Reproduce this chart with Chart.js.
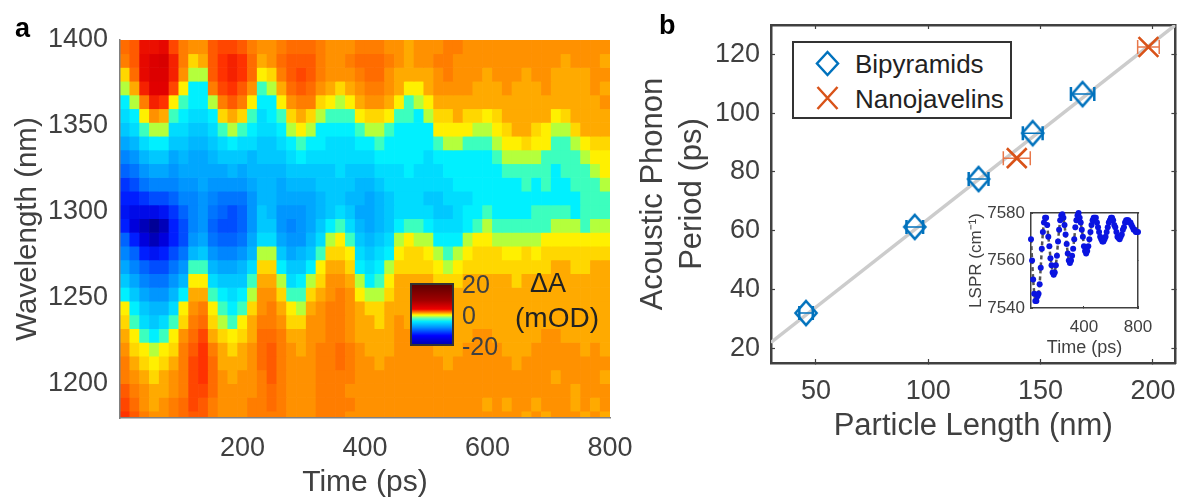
<!DOCTYPE html>
<html>
<head>
<meta charset="utf-8">
<script src="https://cdn.jsdelivr.net/npm/chart.js@4/dist/chart.umd.min.js"></script>
<style>
  body { margin: 0; background: #fff; font-family: "Liberation Sans", Arial, sans-serif; color: #404040; }
  #page { position: relative; width: 1181px; height: 498px; overflow: hidden; }
  canvas { position: absolute; }
  .txt { position: absolute; white-space: nowrap; line-height: 1; }
  #cbar { position: absolute; left: 410px; top: 283px; width: 40px; height: 59px; border: 2px solid #333;
    background: linear-gradient(to top, #0000b4 0%, #0000ff 14%, #0090ff 28%, #00e8ff 38%, #60ffb0 44%, #ffff00 49%, #ff9000 53%, #f00000 59%, #a00000 74%, #600000 100%); }
  #legend { position: absolute; left: 792px; top: 41px; width: 216px; height: 74px; border: 2.5px solid #333; background: #fff; }
</style>
</head>
<body>
<div id="page">
  <canvas id="map" width="640" height="498" style="left:0;top:0"></canvas>
  <canvas id="size" width="572" height="498" style="left:620px;top:0"></canvas>
  <canvas id="lspr" width="231" height="190" style="left:950px;top:190px"></canvas>

  <div class="txt" style="left:15px;top:15px;font-size:27px;font-weight:bold;color:#000">a</div>
  <div class="txt" style="left:659px;top:12px;font-size:27px;font-weight:bold;color:#000">b</div>

  <div id="cbar"></div>
  <div class="txt" style="left:462px;top:272px;font-size:25px">20</div>
  <div class="txt" style="left:462px;top:303px;font-size:25px">0</div>
  <div class="txt" style="left:462px;top:334px;font-size:25px">-20</div>
  <div class="txt" style="left:530px;top:270px;font-size:27px;color:#222">ΔA</div>
  <div class="txt" style="left:515px;top:304px;font-size:28px;color:#222">(mOD)</div>

  <div id="legend">
    <svg width="60" height="74" style="position:absolute;left:0;top:0">
      <polygon points="33.5,9 44,20.5 33.5,32 23,20.5" fill="none" stroke="#0072bd" stroke-width="2.5"/>
      <path d="M23.5,44 L43.5,66 M43.5,44 L23.5,66" fill="none" stroke="#d95319" stroke-width="2.5"/>
    </svg>
    <div class="txt" style="left:61px;top:8px;font-size:26px;color:#222">Bipyramids</div>
    <div class="txt" style="left:61px;top:43px;font-size:26px;color:#222">Nanojavelins</div>
  </div>
</div>

<script>
// panel a: delta A map, one list per time column, wavelengths top to bottom
const timesPs = [8,24,40,56,72,88,104,120,136,152,168,184,200,216,232,248,264,280,296,312,328,344,360,376,392,408,424,440,456,472,488,504,520,536,552,568,584,600,616,632,648,664,680,696,712,728,744,760,776,792];
const wavelengthsNm = [1396,1388,1380,1372,1364,1356,1348,1340,1332,1324,1316,1308,1300,1292,1284,1276,1268,1260,1252,1244,1236,1228,1220,1212,1204,1196,1188,1180];
const deltaA = [
  [4,3,0,-2,-4,-5,-6,-8,-10,-12,-14,-15,-16,-15,-12,-10,-8,-6,-4,-1,0,1,2,3,3,5,6,7],
  [5,5,4,1,-2,-4,-5,-7,-9,-11,-13,-15,-17,-18,-15,-12,-10,-8,-6,-4,-3,-1,0,1,2,3,4,5],
  [9,10,10,8,3,-1,-3,-5,-7,-9,-11,-14,-17,-19,-18,-15,-12,-10,-8,-6,-5,-3,-1,0,1,2,2,3],
  [9,12,12,11,8,2,-2,-4,-6,-8,-10,-13,-17,-20,-19,-16,-13,-11,-9,-7,-6,-4,-2,-1,0,1,1,2],
  [10,13,12,11,7,1,-2,-4,-6,-8,-10,-13,-16,-19,-18,-15,-13,-11,-9,-7,-5,-3,-1,0,1,1,2,2],
  [6,8,8,6,-1,-3,-5,-6,-8,-9,-10,-12,-14,-15,-15,-13,-11,-9,-7,-5,-3,-1,0,1,2,2,3,3],
  [3,3,2,-1,-3,-4,-5,-6,-7,-8,-9,-10,-12,-13,-13,-11,-9,-7,-4,-1,0,2,3,3,3,3,4,4],
  [2,0,-2,-4,-4,-5,-6,-7,-8,-8,-9,-10,-10,-10,-9,-7,-3,-1,1,2,3,4,5,6,6,6,6,5],
  [2,1,-2,-4,-4,-5,-6,-7,-8,-8,-8,-9,-9,-9,-8,-6,-3,-1,1,3,4,6,7,7,7,6,5,5],
  [5,5,5,3,-2,-4,-5,-6,-7,-8,-9,-10,-11,-12,-11,-9,-7,-5,-3,-1,0,1,3,4,4,4,3,3],
  [6,7,7,6,3,0,-3,-5,-6,-8,-9,-11,-12,-13,-12,-10,-8,-6,-4,-3,-2,0,1,1,2,2,2,2],
  [6,8,8,7,5,1,-2,-4,-6,-7,-9,-11,-13,-13,-12,-10,-8,-6,-5,-4,-3,-1,0,1,1,2,2,2],
  [5,7,7,5,3,0,-3,-5,-6,-8,-9,-11,-12,-12,-11,-9,-7,-6,-4,-3,-1,0,1,1,2,2,2,2],
  [3,4,4,2,-1,-3,-4,-5,-7,-7,-8,-9,-9,-9,-8,-7,-5,-3,-2,0,1,1,2,2,2,2,3,3],
  [2,1,-1,-3,-4,-5,-5,-6,-6,-7,-7,-7,-6,-6,-5,-2,0,1,2,2,3,4,4,4,3,3,3,3],
  [2,2,0,-2,-4,-4,-5,-6,-6,-7,-7,-7,-7,-6,-5,-2,0,1,2,3,3,4,5,5,5,4,4,3],
  [3,4,3,1,-1,-3,-4,-5,-6,-7,-8,-8,-9,-9,-8,-6,-4,-2,0,1,2,3,3,3,3,3,3,3],
  [4,5,5,4,2,0,-2,-4,-5,-6,-7,-8,-9,-10,-9,-8,-6,-5,-3,-1,0,1,2,2,2,2,2,2],
  [4,5,6,5,3,1,-1,-3,-4,-6,-7,-8,-9,-9,-9,-7,-6,-4,-3,-2,0,1,1,2,2,2,2,2],
  [4,5,5,4,3,0,-2,-4,-5,-6,-7,-8,-8,-8,-7,-6,-4,-2,0,1,2,2,2,2,2,2,2,2],
  [3,3,3,2,0,-2,-4,-4,-5,-6,-6,-7,-7,-6,-5,-3,-1,0,1,2,2,2,3,3,3,3,3,3],
  [2,2,2,1,-1,-3,-4,-5,-5,-6,-6,-6,-6,-4,-2,0,1,2,2,3,3,3,3,3,3,3,3,3],
  [2,2,2,0,-2,-3,-4,-5,-5,-5,-6,-6,-5,-3,-1,0,1,2,3,3,3,3,4,4,3,3,3,3],
  [2,3,2,1,-1,-3,-4,-5,-5,-6,-6,-7,-6,-5,-3,-1,0,1,2,2,2,2,3,3,3,2,3,2],
  [3,4,3,2,1,-1,-3,-4,-5,-6,-7,-7,-8,-7,-6,-5,-4,-2,-1,1,1,1,2,2,2,2,2,2],
  [3,4,4,3,2,0,-2,-4,-5,-6,-7,-8,-8,-8,-7,-6,-5,-4,-2,0,1,1,1,2,2,2,2,2],
  [3,4,4,3,2,0,-2,-3,-4,-5,-6,-7,-7,-7,-6,-5,-4,-3,-2,0,0,1,1,1,2,2,2,2],
  [2,3,2,2,1,-1,-3,-4,-4,-5,-5,-6,-6,-6,-5,-4,-2,-1,0,1,1,1,1,2,2,2,2,2],
  [2,2,1,1,-1,-3,-4,-4,-4,-5,-5,-5,-5,-4,-2,-1,0,1,1,1,2,2,2,2,2,2,2,2],
  [1,1,1,-1,-3,-3,-4,-4,-4,-4,-5,-5,-5,-3,-1,0,0,1,1,1,1,2,2,2,2,2,2,2],
  [2,2,1,-1,-2,-4,-4,-4,-4,-5,-5,-5,-5,-3,-2,0,0,1,1,1,1,2,2,2,2,2,2,2],
  [2,2,1,1,-1,-2,-4,-4,-5,-5,-5,-6,-5,-4,-2,-1,0,1,1,1,1,1,2,2,2,2,2,2],
  [2,3,2,2,1,0,-1,-3,-4,-5,-5,-6,-6,-5,-4,-2,-1,0,1,1,1,1,1,2,2,2,2,2],
  [3,3,3,2,1,0,-1,-2,-4,-4,-5,-5,-6,-5,-4,-3,-2,0,1,1,1,1,1,1,2,2,2,2],
  [3,2,2,2,1,1,-1,-2,-4,-4,-4,-5,-5,-5,-4,-2,-1,0,1,1,1,1,1,2,2,2,2,2],
  [2,2,2,2,1,0,-1,-3,-4,-4,-4,-5,-4,-4,-2,-1,0,1,1,1,1,1,2,2,2,2,2,2],
  [2,2,2,1,1,0,-2,-3,-4,-4,-4,-4,-4,-3,-1,0,0,1,1,1,1,2,2,2,2,2,2,2],
  [2,2,1,1,1,-1,-2,-3,-4,-4,-4,-4,-3,-2,-1,0,0,1,1,1,1,2,2,2,2,2,1,2],
  [2,2,2,1,1,0,-1,-2,-3,-4,-4,-4,-4,-3,-2,0,0,1,1,1,1,1,2,2,2,2,2,2],
  [2,2,2,2,1,1,0,-1,-2,-3,-4,-4,-4,-3,-2,-1,0,1,1,1,1,1,1,2,2,2,1,2],
  [2,2,2,1,1,1,1,-1,-2,-3,-4,-4,-4,-3,-2,-1,0,0,1,1,1,1,1,1,2,2,2,2],
  [2,2,1,1,1,1,1,0,-2,-3,-3,-4,-4,-3,-2,0,0,1,1,1,1,1,1,2,2,2,2,1],
  [2,2,2,1,1,1,0,-1,-2,-3,-4,-4,-3,-3,-2,-1,0,1,1,1,1,1,2,2,2,2,1,2],
  [2,2,2,2,1,1,-1,-1,-3,-3,-3,-4,-3,-3,-1,0,0,1,1,1,1,2,2,2,2,2,2,1],
  [2,2,1,1,1,-1,-2,-3,-3,-4,-4,-4,-3,-2,-1,0,1,1,1,1,1,2,2,2,1,2,2,2],
  [2,1,1,1,1,0,-2,-3,-3,-3,-4,-4,-3,-2,-1,0,1,1,1,1,1,1,2,2,2,2,2,2],
  [2,2,1,1,1,1,0,-2,-3,-3,-3,-4,-4,-2,-1,0,0,1,1,1,1,1,2,2,2,1,1,2],
  [2,2,1,1,1,1,1,-1,-2,-3,-3,-3,-3,-3,-1,0,0,1,1,1,1,1,1,2,2,2,2,1],
  [2,2,2,2,1,1,1,0,-1,-2,-3,-3,-3,-2,-1,0,1,1,1,1,1,1,2,2,2,2,1,2],
  [2,1,2,1,2,1,1,0,-1,-1,-2,-3,-3,-2,-1,0,1,1,1,1,1,1,1,2,1,2,2,1]
];
const mapTimeTicks = [200,400,600,800];
const mapWaveTicks = [1200,1250,1300,1350,1400];

// panel b: period against length
const bipyLength = [45.6,94,122.4,146.5,168.7];
const bipyPeriod = [32,61.3,77.6,93.2,106.5];
const bipyError = [3,3.7,4.4,4.4,5.2];
const javLength = [139.4,198];
const javPeriod = [84.7,122.5];
const javError = [6,4.8];
const fitLength = [30,210];
const fitPeriod = [22,130];
const sizeXTicks = [50,100,150,200];
const sizeYTicks = [20,40,60,80,100,120];

// inset
const lsprTimes = [8,16,24,32,40,48,56,64,72,80,88,96,104,112,120,128,136,144,152,160,168,176,184,192,200,208,216,224,232,240,248,256,264,272,280,288,296,304,312,320,328,336,344,352,360,368,376,384,392,400,408,416,424,432,440,448,456,464,472,480,488,496,504,512,520,528,536,544,552,560,568,576,584,592,600,608,616,624,632,640,648,656,664,672,680,688,696,704,712,720,728,736,744,752,760,768,776,784,792,800];
const lsprValues = [7569,7560,7552,7546,7543,7543,7545,7546,7550,7557,7565,7572,7576,7578,7578,7575,7570,7566,7561,7558,7555,7554,7555,7558,7562,7568,7573,7577,7579,7579.5,7578,7575,7571,7567,7563,7560,7559,7560,7562,7565,7569,7574,7577,7579,7580,7578,7576,7573,7570,7566,7564,7563,7564,7566,7569,7572,7575,7577,7578,7578,7578,7576,7574,7572,7570,7569,7568,7568,7569,7570,7572,7574,7576,7577,7578,7578,7577,7575,7574,7572,7570,7569.5,7569,7570,7571,7573,7574,7576,7577,7577,7577,7576,7576,7575,7574,7573,7573,7572,7572,7572];
const lsprXTicks = [400,800];
const lsprYTicks = [7540,7560,7580];

const FONT = '"Liberation Sans", Arial, sans-serif';
const TEXT = '#404040';
const BLUE = '#0072bd';
const ORANGE = '#d95319';

const mapColors = [
  [-20,0,0,150],[-18,0,0,220],[-15,0,30,255],[-12,0,100,255],[-9,0,150,255],[-6,0,200,255],[-4,0,240,255],
  [-3,60,255,190],[-2,180,255,60],[-1,255,240,0],[0,255,215,0],[1,255,170,0],[2,255,145,0],
  [3,255,125,0],[5,255,90,0],[7,255,50,0],[9,235,15,0],[11,225,0,0],[13,215,0,0],[20,110,0,0]
];

function colorFor(v){
  for(var i = 1; i < mapColors.length; i++){
    if(v <= mapColors[i][0]){
      var a = mapColors[i-1], b = mapColors[i];
      var f = (v-a[0])/(b[0]-a[0]);
      return 'rgb(' + [1,2,3].map(k => Math.round(a[k]+(b[k]-a[k])*f)).join(',') + ')';
    }
  }
  return 'rgb(110,0,0)';
}

function noPad(s){ s.paddingLeft = s.paddingRight = s.paddingTop = s.paddingBottom = 0; }
function fixWidth(w){ return function(s){ s.width = w; noPad(s); }; }
function fixHeight(h){ return function(s){ s.height = h; noPad(s); }; }
function setTicks(list){ return function(s){ s.ticks = list.map(v => ({value: v})); }; }
function plain(v){ return String(v); }

// extra top/right axis, only the line and the inward ticks
function boxScale(axis, position, min, max, list, tick, width){
  return {
    type: 'linear', axis: axis, position: position, min: min, max: max,
    afterBuildTicks: setTicks(list),
    afterFit: axis == 'x' ? fixHeight(0) : fixWidth(0),
    ticks: {display: false},
    grid: {drawOnChartArea: false, tickLength: tick, color: TEXT, tickWidth: 1.2},
    border: {color: TEXT, width: width}
  };
}

// heat map, one floating bar dataset per wavelength
const mapSets = wavelengthsNm.map(function(nm, r){
  return {
    data: timesPs.map(t => ({x: t, y: [nm-4, nm+4]})),
    backgroundColor: deltaA.map(col => colorFor(col[r])),
    barPercentage: 1,
    categoryPercentage: 1,
    grouped: false
  };
});

new Chart(document.getElementById('map'), {
  type: 'bar',
  data: {datasets: mapSets},
  options: {
    responsive: false,
    animation: false,
    events: [],
    layout: {padding: {top: 40, right: 30}},
    plugins: {legend: {display: false}, tooltip: {enabled: false}},
    scales: {
      x: {
        type: 'linear', min: 0, max: 800, offset: false,
        afterBuildTicks: setTicks(mapTimeTicks),
        afterFit: fixHeight(80),
        grid: {display: false},
        border: {color: '#808080', width: 1.5, z: 1},
        ticks: {color: TEXT, padding: 6, maxRotation: 0, callback: plain, font: {family: FONT, size: 27}},
        title: {display: true, text: 'Time (ps)', color: TEXT, padding: 0, font: {family: FONT, size: 30, lineHeight: 1}}
      },
      y: {
        type: 'linear', min: 1180, max: 1400,
        afterBuildTicks: setTicks(mapWaveTicks),
        afterFit: fixWidth(120),
        grid: {display: false},
        border: {color: '#808080', width: 1.5, z: 1},
        ticks: {color: TEXT, padding: 4, callback: plain, font: {family: FONT, size: 27}},
        title: {display: true, text: 'Wavelength (nm)', color: TEXT, padding: {top: 13}, font: {family: FONT, size: 29.5, lineHeight: 1}}
      }
    }
  }
});

function toPoints(xs, ys){ return xs.map((x, i) => ({x: x, y: ys[i]})); }

// error bars as broken line, with caps from the point style
function errorPoints(xs, ys, es){
  var out = [];
  xs.forEach(function(x, i){
    out.push({x: x-es[i], y: ys[i]}, {x: x+es[i], y: ys[i]}, {x: x, y: NaN});
  });
  return out;
}

function errorSet(xs, ys, es, color, w){
  return {
    type: 'scatter', showLine: true, spanGaps: false, data: errorPoints(xs, ys, es),
    borderColor: color, borderWidth: 1.5, pointStyle: 'line', pointRotation: 90, pointRadius: 7,
    pointBorderColor: color, pointBorderWidth: w, order: 1
  };
}

// taller than rectRot
const diamond = document.createElement('canvas');
diamond.width = 26; diamond.height = 30;
(function(){
  var c = diamond.getContext('2d');
  c.strokeStyle = BLUE; c.lineWidth = 2.6;
  c.beginPath(); c.moveTo(13,3); c.lineTo(23.5,15); c.lineTo(13,27); c.lineTo(2.5,15); c.closePath(); c.stroke();
})();

new Chart(document.getElementById('size'), {
  type: 'scatter',
  data: {datasets: [
    {data: toPoints(fitLength, fitPeriod), showLine: true, borderColor: '#cccccc', borderWidth: 3.5, pointRadius: 0, order: 3},
    errorSet(bipyLength, bipyPeriod, bipyError, BLUE, 2.5),
    errorSet(javLength, javPeriod, javError, '#e8774a', 1.5),
    {data: toPoints(bipyLength, bipyPeriod), pointStyle: diamond, order: 0},
    {data: toPoints(javLength, javPeriod), pointStyle: 'crossRot', pointRadius: 14, pointBorderColor: ORANGE, pointBorderWidth: 2.6, order: 0}
  ]},
  options: {
    responsive: false,
    animation: false,
    events: [],
    layout: {padding: {top: 25, right: 16}},
    plugins: {legend: {display: false}, tooltip: {enabled: false}},
    scales: {
      x: {
        type: 'linear', position: 'bottom', min: 30, max: 210,
        afterBuildTicks: setTicks(sizeXTicks),
        afterFit: fixHeight(135),
        grid: {drawOnChartArea: false, tickLength: -4, color: TEXT, tickWidth: 1.2},
        border: {color: TEXT, width: 2.5},
        ticks: {color: TEXT, padding: 16, maxRotation: 0, callback: plain, font: {family: FONT, size: 27}},
        title: {display: true, text: 'Particle Length (nm)', color: TEXT, padding: {bottom: 56}, font: {family: FONT, size: 31, lineHeight: 1}}
      },
      y: {
        type: 'linear', position: 'left', min: 15, max: 130,
        afterBuildTicks: setTicks(sizeYTicks),
        afterFit: fixWidth(151),
        grid: {drawOnChartArea: false, tickLength: -4, color: TEXT, tickWidth: 1.2},
        border: {color: TEXT, width: 2.5},
        ticks: {color: TEXT, padding: 15, callback: plain, font: {family: FONT, size: 27}},
        title: {display: true, text: ['Acoustic Phonon', 'Period (ps)'], color: TEXT, padding: {top: 14}, font: {family: FONT, size: 31, lineHeight: 1.25}}
      },
      x2: boxScale('x', 'top', 30, 210, sizeXTicks, -4, 2.5),
      y2: boxScale('y', 'right', 15, 130, sizeYTicks, -4, 2.5)
    }
  }
});

new Chart(document.getElementById('lspr'), {
  type: 'scatter',
  data: {datasets: [
    {data: toPoints(lsprTimes, lsprValues), showLine: true, borderColor: '#555555', borderWidth: 2.5, borderDash: [4,3], pointRadius: 0, order: 1},
    {data: toPoints(lsprTimes, lsprValues), pointRadius: 3, pointBackgroundColor: '#0a14e0', pointBorderWidth: 0, clip: false, order: 0}
  ]},
  options: {
    responsive: false,
    animation: false,
    events: [],
    layout: {padding: {top: 23, right: 43}},
    plugins: {legend: {display: false}, tooltip: {enabled: false}},
    scales: {
      x: {
        type: 'linear', position: 'bottom', min: 8, max: 800,
        afterBuildTicks: setTicks(lsprXTicks),
        afterFit: fixHeight(72),
        grid: {drawOnChartArea: false, tickLength: -2, color: TEXT},
        border: {color: TEXT, width: 1.5},
        ticks: {color: TEXT, padding: 11, maxRotation: 0, callback: plain, font: {family: FONT, size: 17}},
        title: {display: true, text: 'Time (ps)', color: TEXT, padding: {bottom: 23}, font: {family: FONT, size: 18, lineHeight: 1}}
      },
      y: {
        type: 'linear', position: 'left', min: 7540, max: 7580,
        afterBuildTicks: setTicks(lsprYTicks),
        afterFit: fixWidth(81),
        grid: {drawOnChartArea: false, tickLength: -2, color: TEXT},
        border: {color: TEXT, width: 1.5},
        ticks: {color: TEXT, padding: 8, callback: plain, font: {family: FONT, size: 17}},
        title: {display: true, text: 'LSPR (cm⁻¹)', color: TEXT, padding: {top: 18}, font: {family: FONT, size: 17, lineHeight: 1}}
      },
      x2: boxScale('x', 'top', 8, 800, lsprXTicks, 0, 1.5),
      y2: boxScale('y', 'right', 7540, 7580, lsprYTicks, 0, 1.5)
    }
  }
});
</script>
</body>
</html>
